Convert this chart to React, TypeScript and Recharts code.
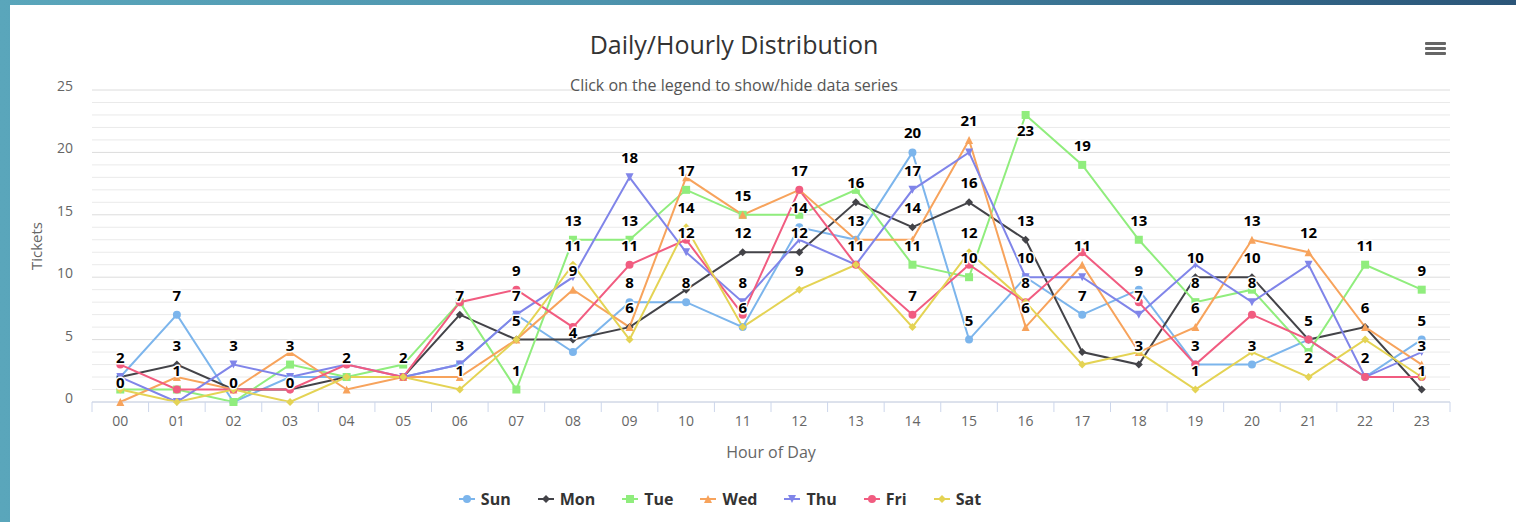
import React from 'react';
import { LineChart, Line, XAxis, YAxis, CartesianGrid, ReferenceLine, LabelList, Label } from 'recharts';

// ---------- data ----------
const hourLabels = ['00','01','02','03','04','05','06','07','08','09','10','11','12','13','14','15','16','17','18','19','20','21','22','23'];
const seriesNames = ['Sun', 'Mon', 'Tue', 'Wed', 'Thu', 'Fri', 'Sat'];

const sunValues = [2,7,0,2,2,2,3,7,4,8,8,6,14,13,20,5,10,7,9,3,3,5,2,5];
const monValues = [2,3,1,1,2,2,7,5,5,6,9,12,12,16,14,16,13,4,3,10,10,5,6,1];
const tueValues = [1,1,0,3,2,3,8,1,13,13,17,15,15,17,11,10,23,19,13,8,9,4,11,9];
const wedValues = [0,2,1,4,1,2,2,5,9,6,18,15,17,13,13,21,6,11,4,6,13,12,6,3];
const thuValues = [2,0,3,2,3,2,3,7,10,18,12,8,13,11,17,20,10,10,7,11,8,11,2,4];
const friValues = [3,1,1,1,3,2,8,9,6,11,13,7,17,11,7,11,8,12,8,3,7,5,2,2];
const satValues = [1,0,1,0,2,2,1,5,11,5,14,6,9,11,6,12,8,3,4,1,4,2,5,2];

// hours whose data label is visible (others hidden by overlap in the original)
const sunLabelHours = [0,1,5,8,9,10,12,14,15,17,18,19,20,23];
const monLabelHours = [1,6,7,11,12,13,14,15,16,18,19,20,22,23];
const tueLabelHours = [2,3,4,7,8,9,10,14,15,16,17,18,19,22,23];
const wedLabelHours = [0,8,9,11,13,15,16,17,19,20,21,23];
const thuLabelHours = [2,6,7,9,10,11,14,16,18,20];
const friLabelHours = [1,7,9,12,13,14,16,21,22];
const satLabelHours = [3,6,8,10,11,12,15,19,21];

const seriesColors = ['#7cb5ec', '#434348', '#90ed7d', '#f7a35c', '#8085e9', '#f15c80', '#e4d354'];
const seriesSymbols = ['circle', 'diamond', 'square', 'triangle', 'triangle-down', 'circle', 'diamond'];
const yTicks = [0, 5, 10, 15, 20, 25];

const seriesValues = [sunValues, monValues, tueValues, wedValues, thuValues, friValues, satValues];
const seriesLabelHours = [sunLabelHours, monLabelHours, tueLabelHours, wedLabelHours, thuLabelHours, friLabelHours, satLabelHours];

const chartData = hourLabels.map((lbl, i) => {
  const row: any = { hour: i, label: lbl };
  seriesNames.forEach((n, k) => {
    row[n] = seriesValues[k][i];
    row[n + 'Lbl'] = seriesLabelHours[k].includes(i) ? seriesValues[k][i] : null;
  });
  return row;
});

const minorGridValues = Array.from({ length: 26 }, (_, i) => i).filter((v) => v % 5 !== 0);

// ---------- layout ----------
const W = 1516;
const H = 522;
const CHART_H = 470;
const PLOT_LEFT = 92;
const PLOT_RIGHT = 1450;
const PLOT_TOP = 90;
const HALF_BAND = (PLOT_RIGHT - PLOT_LEFT) / 24 / 2;
const FONT = '"Open Sans", "Liberation Sans", Arial, sans-serif';

const Marker = ({ cx, cy, color, symbol, size = 4 }: any) => {
  if (cx == null || cy == null) return null;
  const r = size;
  if (symbol === 'circle') return <circle cx={cx} cy={cy} r={r} fill={color} />;
  if (symbol === 'square') return <rect x={cx - r} y={cy - r} width={2 * r} height={2 * r} fill={color} />;
  if (symbol === 'diamond')
    return <polygon points={`${cx},${cy - r} ${cx + r},${cy} ${cx},${cy + r} ${cx - r},${cy}`} fill={color} />;
  if (symbol === 'triangle')
    return <polygon points={`${cx},${cy - r} ${cx + r},${cy + r} ${cx - r},${cy + r}`} fill={color} />;
  return <polygon points={`${cx - r},${cy - r} ${cx + r},${cy - r} ${cx},${cy + r}`} fill={color} />;
};

const XTick = (props: any) => {
  const { x, y, payload } = props;
  const i = payload.value;
  return (
    <g>
      <line x1={x + HALF_BAND} x2={x + HALF_BAND} y1={y} y2={y + 10} stroke="#ccd6eb" />
      {i === 0 && <line x1={x - HALF_BAND} x2={x - HALF_BAND} y1={y} y2={y + 10} stroke="#ccd6eb" />}
      <text x={x} y={y + 24} textAnchor="middle" fill="#666" fontSize={14} fontFamily={FONT}>
        {hourLabels[i]}
      </text>
    </g>
  );
};

const YTick = (props: any) => {
  const { x, y, payload } = props;
  return (
    <text x={x} y={y + 1} textAnchor="end" fill="#666" fontSize={14} fontFamily={FONT}>
      {payload.value}
    </text>
  );
};

const renderDataLabel = (props: any) => {
  const { x, y, value } = props;
  if (value == null || x == null || y == null) return null;
  const below = y - 28 < PLOT_TOP;
  return (
    <text
      x={x}
      y={below ? y + 21 : y - 14}
      textAnchor="middle"
      fontSize={15}
      fontWeight="bold"
      fontFamily={FONT}
      fill="#000"
      stroke="#fff"
      strokeWidth={3}
      strokeLinejoin="round"
      paintOrder="stroke"
    >
      {value}
    </text>
  );
};

const LegendSymbol = ({ color, symbol }: any) => (
  <svg width={16} height={12} style={{ marginRight: 6, display: 'block' }}>
    <line x1={0} x2={16} y1={6} y2={6} stroke={color} strokeWidth={2} />
    <Marker cx={8} cy={6} color={color} symbol={symbol} size={4} />
  </svg>
);

export default function App() {
  return (
    <div style={{ position: 'absolute', left: 0, top: 0, width: W, height: H, overflow: 'hidden',
      background: 'linear-gradient(90deg, #5aa6bb 0%, #4d93ad 40%, #34698a 80%, #2b5578 100%)' }}>
      <div style={{ position: 'absolute', left: 10, top: 5, width: W - 10, height: H - 5, background: '#fff' }} />

      {/* title */}
      <div style={{ position: 'absolute', left: 0, top: 27, width: 1468, textAlign: 'center',
        fontFamily: FONT, fontSize: 25, color: '#333', lineHeight: '34px' }}>
        Daily/Hourly Distribution
      </div>

      {/* menu icon */}
      <div style={{ position: 'absolute', left: 1425, top: 42, width: 21 }}>
        {[0, 1, 2].map((k) => (
          <div key={k} style={{ height: 3, background: '#666', marginBottom: 2, borderRadius: 1 }} />
        ))}
      </div>

      <div style={{ position: 'absolute', left: 0, top: 0 }}>
        <LineChart width={W} height={CHART_H} data={chartData}
          margin={{ top: PLOT_TOP, right: W - PLOT_RIGHT, bottom: 8, left: 0 }}>
          <CartesianGrid vertical={false} stroke="#dcdcdc" />
          {minorGridValues.map((v) => (
            <ReferenceLine key={v} y={v} stroke="#eaeaea" />
          ))}
          <XAxis
            dataKey="hour"
            type="number"
            domain={[-0.5, 23.5]}
            ticks={hourLabels.map((_, i) => i)}
            interval={0}
            tickSize={0}
            tickMargin={0}
            tickLine={false}
            axisLine={{ stroke: '#ccd6eb' }}
            tick={<XTick />}
            height={60}
            allowDataOverflow
          >
            <Label
              content={(p: any) => {
                const vb = p.viewBox || {};
                return (
                  <text x={vb.x + vb.width / 2} y={vb.y + 56} textAnchor="middle" fill="#666"
                    fontSize={16} fontFamily={FONT}>Hour of Day</text>
                );
              }}
            />
          </XAxis>
          <YAxis
            type="number"
            domain={[0, 25]}
            ticks={yTicks}
            width={PLOT_LEFT}
            axisLine={false}
            tickLine={false}
            tickSize={6}
            tickMargin={13}
            tick={<YTick />}
          >
            <Label
              content={(p: any) => {
                const vb = p.viewBox || {};
                const cx = vb.x + 38;
                const cy = vb.y + vb.height / 2;
                return (
                  <text x={cx} y={cy} transform={`rotate(-90 ${cx} ${cy})`} textAnchor="middle"
                    dominantBaseline="middle" fill="#666" fontSize={15} fontFamily={FONT}>Tickets</text>
                );
              }}
            />
          </YAxis>

          {seriesNames.map((name, k) => (
            <Line
              key={name}
              type="linear"
              dataKey={name}
              stroke={seriesColors[k]}
              strokeWidth={2}
              isAnimationActive={false}
              activeDot={false}
              dot={(p: any) => (
                <Marker key={`${name}-${p.index}`} cx={p.cx} cy={p.cy} color={seriesColors[k]} symbol={seriesSymbols[k]} />
              )}
            />
          ))}
          {seriesNames.map((name) => (
            <Line
              key={name + '-labels'}
              type="linear"
              dataKey={name}
              stroke="none"
              dot={false}
              activeDot={false}
              isAnimationActive={false}
              legendType="none"
            >
              <LabelList dataKey={name + 'Lbl'} content={renderDataLabel} />
            </Line>
          ))}
        </LineChart>
      </div>

      {/* subtitle (drawn over the top grid line as in the original) */}
      <div style={{ position: 'absolute', left: 0, top: 74, width: 1468, textAlign: 'center',
        fontFamily: FONT, fontSize: 16, color: '#555', lineHeight: '22px' }}>
        Click on the legend to show/hide data series
      </div>

      {/* legend */}
      <div style={{ position: 'absolute', left: 0, top: 488, width: 1440, display: 'flex',
        justifyContent: 'center', alignItems: 'center', fontFamily: FONT, fontSize: 16,
        fontWeight: 'bold', color: '#333' }}>
        {seriesNames.map((name, k) => (
          <div key={name} style={{ display: 'flex', alignItems: 'center', marginRight: k < seriesNames.length - 1 ? 27 : 0 }}>
            <LegendSymbol color={seriesColors[k]} symbol={seriesSymbols[k]} />
            <span>{name}</span>
          </div>
        ))}
      </div>
    </div>
  );
}
